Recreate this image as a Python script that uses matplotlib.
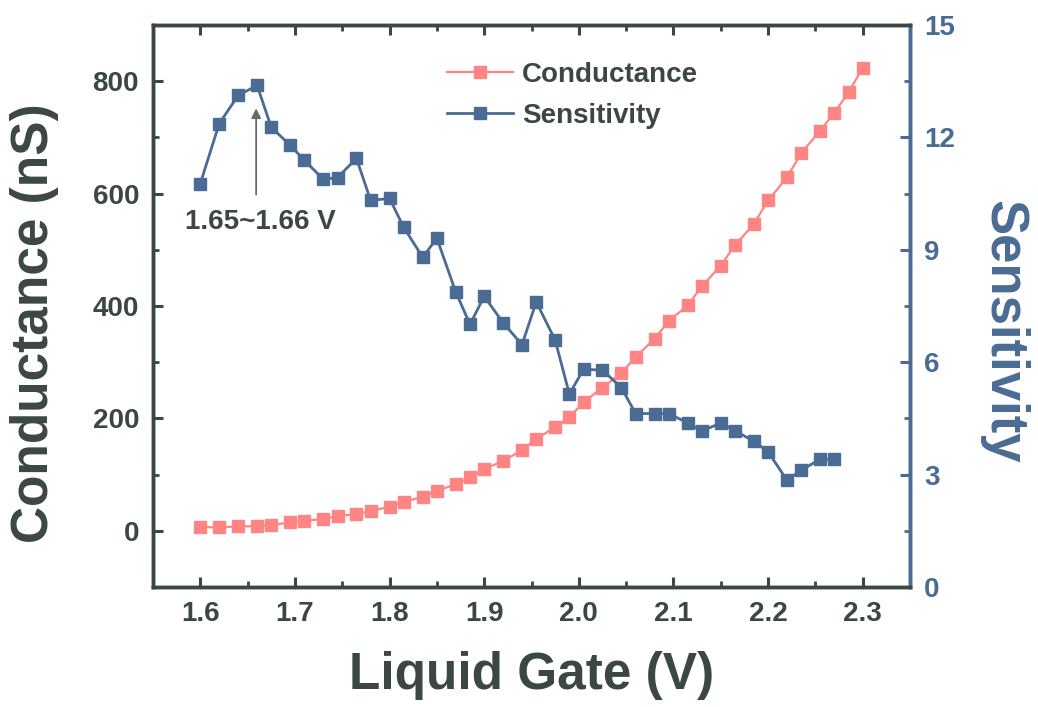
import matplotlib
matplotlib.use("Agg")
import matplotlib.pyplot as plt
from matplotlib.ticker import MultipleLocator

plt.rcParams['font.family'] = ['Liberation Sans', 'DejaVu Sans']
plt.rcParams['font.weight'] = 'bold'

gate_v = [1.60, 1.62, 1.64, 1.66, 1.675, 1.695, 1.71, 1.73, 1.745, 1.765,
          1.78, 1.80, 1.815, 1.835, 1.85, 1.87, 1.885, 1.90, 1.92, 1.94,
          1.955, 1.975, 1.99, 2.005, 2.025, 2.045, 2.06, 2.08, 2.095, 2.115,
          2.13, 2.15, 2.165, 2.185, 2.20, 2.22, 2.235, 2.255, 2.27, 2.285, 2.30]

conductance = [7, 6, 8, 8, 10, 15, 18, 21, 26, 30,
               35, 43, 52, 60, 71, 83, 95, 110, 124, 144,
               163, 185, 202, 229, 255, 281, 309, 342, 373, 401,
               435, 472, 508, 546, 588, 629, 672, 712, 744, 780, 824]

sensitivity = [10.77, 12.37, 13.12, 13.39, 12.27, 11.79, 11.39, 10.88, 10.93, 11.44,
               10.32, 10.37, 9.60, 8.80, 9.31, 7.87, 7.01, 7.76, 7.05, 6.47,
               7.61, 6.59, 5.15, 5.81, 5.79, 5.32, 4.63, 4.63, 4.63, 4.38,
               4.16, 4.38, 4.17, 3.89, 3.61, 2.85, 3.12, 3.41, 3.41]

x_ticks = [1.6, 1.7, 1.8, 1.9, 2.0, 2.1, 2.2, 2.3]
left_ticks = [0, 200, 400, 600, 800]
right_ticks = [0, 3, 6, 9, 12, 15]

dark = '#3b4840'
pink = '#ff8585'
blue = '#4a6b93'

fig = plt.figure(figsize=(10.38, 7.07), dpi=100)
ax = fig.add_axes([0.1474, 0.1697, 0.7293, 0.7949])
ax2 = ax.twinx()

l1, = ax.plot(gate_v, conductance, color=pink, marker='s', markersize=8.5,
              linewidth=1.6, label='Conductance', zorder=3)
l2, = ax2.plot(gate_v[:len(sensitivity)], sensitivity, color=blue, marker='s',
               markersize=8.5, linewidth=2.0, label='Sensitivity', zorder=3)

ax.set_xlim(1.55, 2.35)
ax.set_ylim(-100, 900)
ax2.set_ylim(0, 15)

ax.set_xticks(x_ticks)
ax.set_xticklabels([f'{v:.1f}' for v in x_ticks])
ax.xaxis.set_minor_locator(MultipleLocator(0.05))
ax.set_yticks(left_ticks)
ax.yaxis.set_minor_locator(MultipleLocator(100))
ax2.set_yticks(right_ticks)
ax2.yaxis.set_minor_locator(MultipleLocator(1.5))

for a in (ax, ax2):
    for s in a.spines.values():
        s.set_linewidth(2.5)
        s.set_color(dark)
ax2.spines['right'].set_color(blue)

ax.tick_params(axis='both', which='major', direction='in', length=7, width=2.2,
               labelsize=20, colors=dark, top=True, pad=10)
ax.tick_params(axis='both', which='minor', direction='in', length=4, width=2,
               colors=dark, top=True)
ax.tick_params(axis='y', which='both', right=False)
ax2.tick_params(axis='y', which='major', direction='in', length=7, width=2.2,
                labelsize=20, colors=blue, pad=10)
ax2.tick_params(axis='y', which='minor', direction='in', length=4, width=2,
                colors=blue)

ax.set_xlabel('Liquid Gate (V)', fontsize=37, fontweight='bold', color=dark)
ax.set_ylabel('Conductance (nS)', fontsize=37, fontweight='bold', color=dark)
ax2.set_ylabel('Sensitivity', fontsize=38, fontweight='bold', color=blue,
               rotation=270)
for lab in (ax.xaxis.label, ax.yaxis.label, ax2.yaxis.label):
    lab.set_va('center')
    lab.set_ha('center')
ax.xaxis.set_label_coords(0.5, -0.157)
ax.yaxis.set_label_coords(-0.156, 0.47)
ax2.yaxis.set_label_coords(1.123, 0.455)

ax2.annotate('', xy=(1.659, 12.85), xytext=(1.659, 10.4),
             arrowprops=dict(arrowstyle='-|>', color='#6a6a6a', lw=1.3,
                             mutation_scale=14))
ax2.text(1.663, 9.75, '1.65~1.66 V', fontsize=20, fontweight='bold', color=dark,
         ha='center', va='center')

leg = ax2.legend([l1, l2], ['Conductance', 'Sensitivity'], loc='upper left',
                 bbox_to_anchor=(0.388, 0.935), frameon=False,
                 prop={'weight': 'bold', 'size': 20},
                 handlelength=2.4, handletextpad=0.3, labelspacing=0.55,
                 borderaxespad=0, borderpad=0)
for t in leg.get_texts():
    t.set_color(dark)

fig.savefig('out.png', dpi=100, facecolor='white')
